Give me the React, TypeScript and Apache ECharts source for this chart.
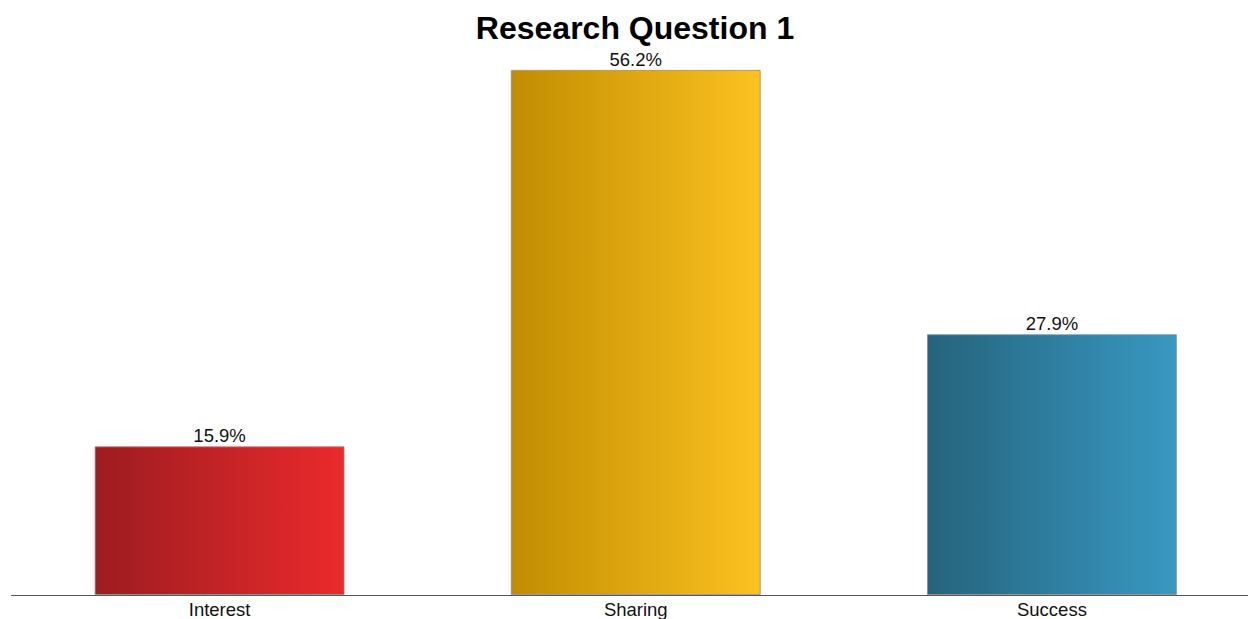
import React, { useEffect, useRef } from "react";
import * as echarts from "echarts";

const categories = ["Interest", "Sharing", "Success"];
const values = [15.9, 56.2, 27.9];
const gradientStops = [
  ["#9c1c20", "#ea2a2c"],
  ["#c18d00", "#fcc121"],
  ["#25637c", "#3998c2"],
];

export default function App() {
  const ref = useRef<HTMLDivElement>(null);

  useEffect(() => {
    document.body.style.margin = "0";
    document.body.style.overflow = "hidden";
    if (!ref.current) return;
    const chart = echarts.init(ref.current, null, { renderer: "svg" });
    chart.setOption({
      animation: false,
      backgroundColor: "#ffffff",
      title: {
        text: "Research Question 1",
        left: "center",
        top: 7,
        textStyle: {
          fontFamily: "Liberation Sans, Arial, sans-serif",
          fontWeight: "bold",
          fontSize: 32,
          color: "#000000",
        },
      },
      grid: { left: 11.5, right: 10, top: 70, bottom: 24, containLabel: false },
      xAxis: {
        type: "category",
        data: categories,
        axisLine: { show: true, lineStyle: { color: "#555555", width: 1 } },
        axisTick: { show: false },
        axisLabel: {
          color: "#111111",
          fontSize: 18.5,
          fontFamily: "Liberation Sans, Arial, sans-serif",
          margin: 5,
        },
      },
      yAxis: {
        type: "value",
        min: 0,
        max: 56.2,
        show: false,
        splitLine: { show: false },
      },
      series: [
        {
          type: "bar",
          barWidth: "60%",
          data: values.map((v, i) => ({
            value: v,
            itemStyle: {
              color: new echarts.graphic.LinearGradient(0, 0, 1, 0, [
                { offset: 0, color: gradientStops[i][0] },
                { offset: 1, color: gradientStops[i][1] },
              ]),
              borderColor: "#8a8a8a",
              borderWidth: 0.8,
            },
          })),
          label: {
            show: true,
            position: "top",
            distance: 1,
            formatter: (p: any) => `${p.value.toFixed(1)}%`,
            color: "#111111",
            fontSize: 18.5,
            fontFamily: "Liberation Sans, Arial, sans-serif",
          },
        },
      ],
    });
    return () => chart.dispose();
  }, []);

  return <div ref={ref} style={{ width: 1270, height: 619 }} />;
}
